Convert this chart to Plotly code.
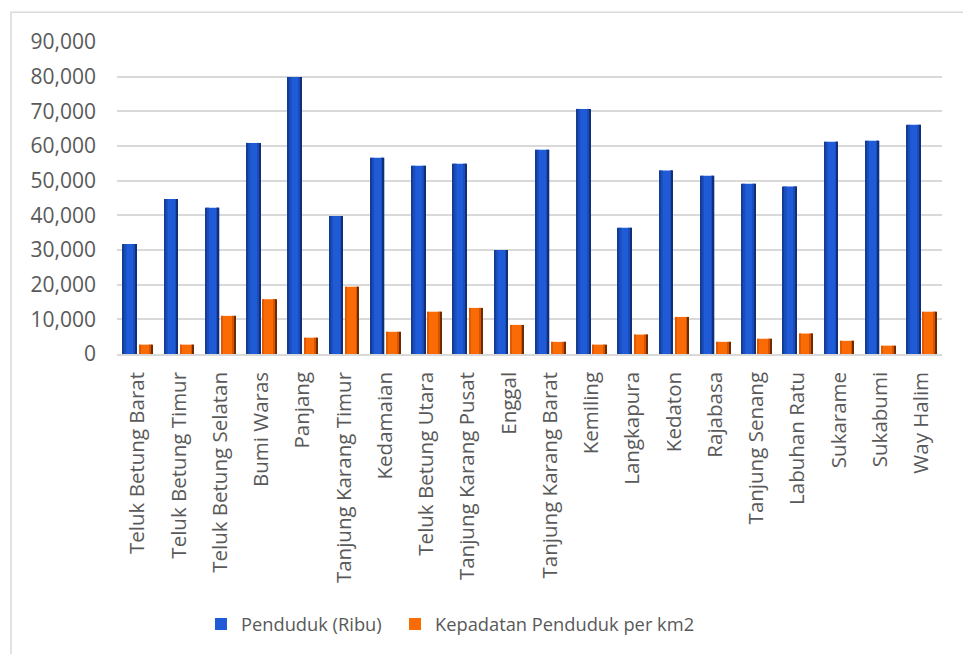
import plotly.graph_objects as go

categories = [
    "Teluk Betung Barat", "Teluk Betung Timur", "Teluk Betung Selatan", "Bumi Waras",
    "Panjang", "Tanjung Karang Timur", "Kedamaian", "Teluk Betung Utara",
    "Tanjung Karang Pusat", "Enggal", "Tanjung Karang Barat", "Kemiling",
    "Langkapura", "Kedaton", "Rajabasa", "Tanjung Senang", "Labuhan Ratu",
    "Sukarame", "Sukabumi", "Way Halim",
]
penduduk = [31700, 44700, 42200, 60900, 79900, 39800, 56600, 54300, 54900, 30000,
            58900, 70700, 36400, 52900, 51400, 49100, 48300, 61200, 61500, 66100]
kepadatan = [2700, 2700, 11000, 15800, 4700, 19400, 6400, 12200, 13300, 8400,
             3500, 2700, 5600, 10700, 3500, 4400, 5900, 3800, 2400, 12200]

series_names = ["Penduduk (Ribu)", "Kepadatan Penduduk per km2"]
tick_vals = [0, 10000, 20000, 30000, 40000, 50000, 60000, 70000, 80000, 90000]

FONT = "Open Sans"
TXT = "#595959"
GRID = "#D9D9D9"

BW = 0.332          # bar width (category units)
OFF_B = -0.355      # blue bar left offset
OFF_O = 0.034       # orange bar left offset

fig = go.Figure()


def strip(vals, off, w, color):
    fig.add_trace(go.Bar(
        x=categories, y=vals, offset=off, width=w, showlegend=False,
        hoverinfo="skip", marker=dict(color=color, line=dict(width=0)),
    ))


# main bars (with legend entries)
fig.add_trace(go.Bar(
    x=categories, y=penduduk, name=series_names[0], offset=OFF_B, width=BW,
    marker=dict(color="#1F5BD6", line=dict(width=0)), legend="legend",
))
fig.add_trace(go.Bar(
    x=categories, y=kepadatan, name=series_names[1], offset=OFF_O, width=BW,
    marker=dict(color="#FA6A05", line=dict(width=0)), legend="legend2",
))

# shading strips to imitate the bevelled/gradient look
strip(penduduk, OFF_B, 0.035, "#123C96")
strip(penduduk, OFF_B + 0.035, 0.05, "#1A4DBA")
strip(penduduk, OFF_B + BW - 0.07, 0.04, "#1A4DBA")
strip(penduduk, OFF_B + BW - 0.03, 0.03, "#102F78")

strip(kepadatan, OFF_O, 0.03, "#E25A00")
strip(kepadatan, OFF_O + BW - 0.07, 0.045, "#D65300")
strip(kepadatan, OFF_O + BW - 0.025, 0.025, "#6E2A00")

legend_common = dict(
    orientation="h", y=-0.866, xanchor="left", yanchor="middle",
    font=dict(family=FONT, size=18.3, color=TXT),
    itemwidth=30, tracegroupgap=0, bgcolor="rgba(0,0,0,0)",
)

fig.update_layout(
    width=963, height=654,
    margin=dict(l=117, r=21, t=42, b=300),
    paper_bgcolor="white", plot_bgcolor="white",
    barmode="overlay",
    font=dict(family=FONT, color=TXT, size=21),
    showlegend=True,
    legend=dict(x=0.1018, **legend_common),
    legend2=dict(x=0.337, **legend_common),
    xaxis=dict(
        type="category", tickangle=-90, showgrid=False,
        showline=True, linecolor=GRID, linewidth=1.5,
        ticks="", ticklabelstandoff=8,
        tickfont=dict(family=FONT, size=20.5, color=TXT),
        range=[-0.5, 19.5],
    ),
    yaxis=dict(
        range=[0, 90000], tickvals=tick_vals, tickformat=",",
        showgrid=True, gridcolor=GRID, gridwidth=1.5,
        zeroline=False, showline=False, ticks="",
        ticklabelstandoff=20,
        tickfont=dict(family=FONT, size=21, color=TXT),
    ),
    shapes=[dict(
        type="rect", xref="paper", yref="paper",
        x0=-0.1285, x1=1.05, y0=-1.05, y1=1.095,
        line=dict(color=GRID, width=1.5), fillcolor="rgba(0,0,0,0)", layer="below",
    )],
)

fig.write_html("out.html")
